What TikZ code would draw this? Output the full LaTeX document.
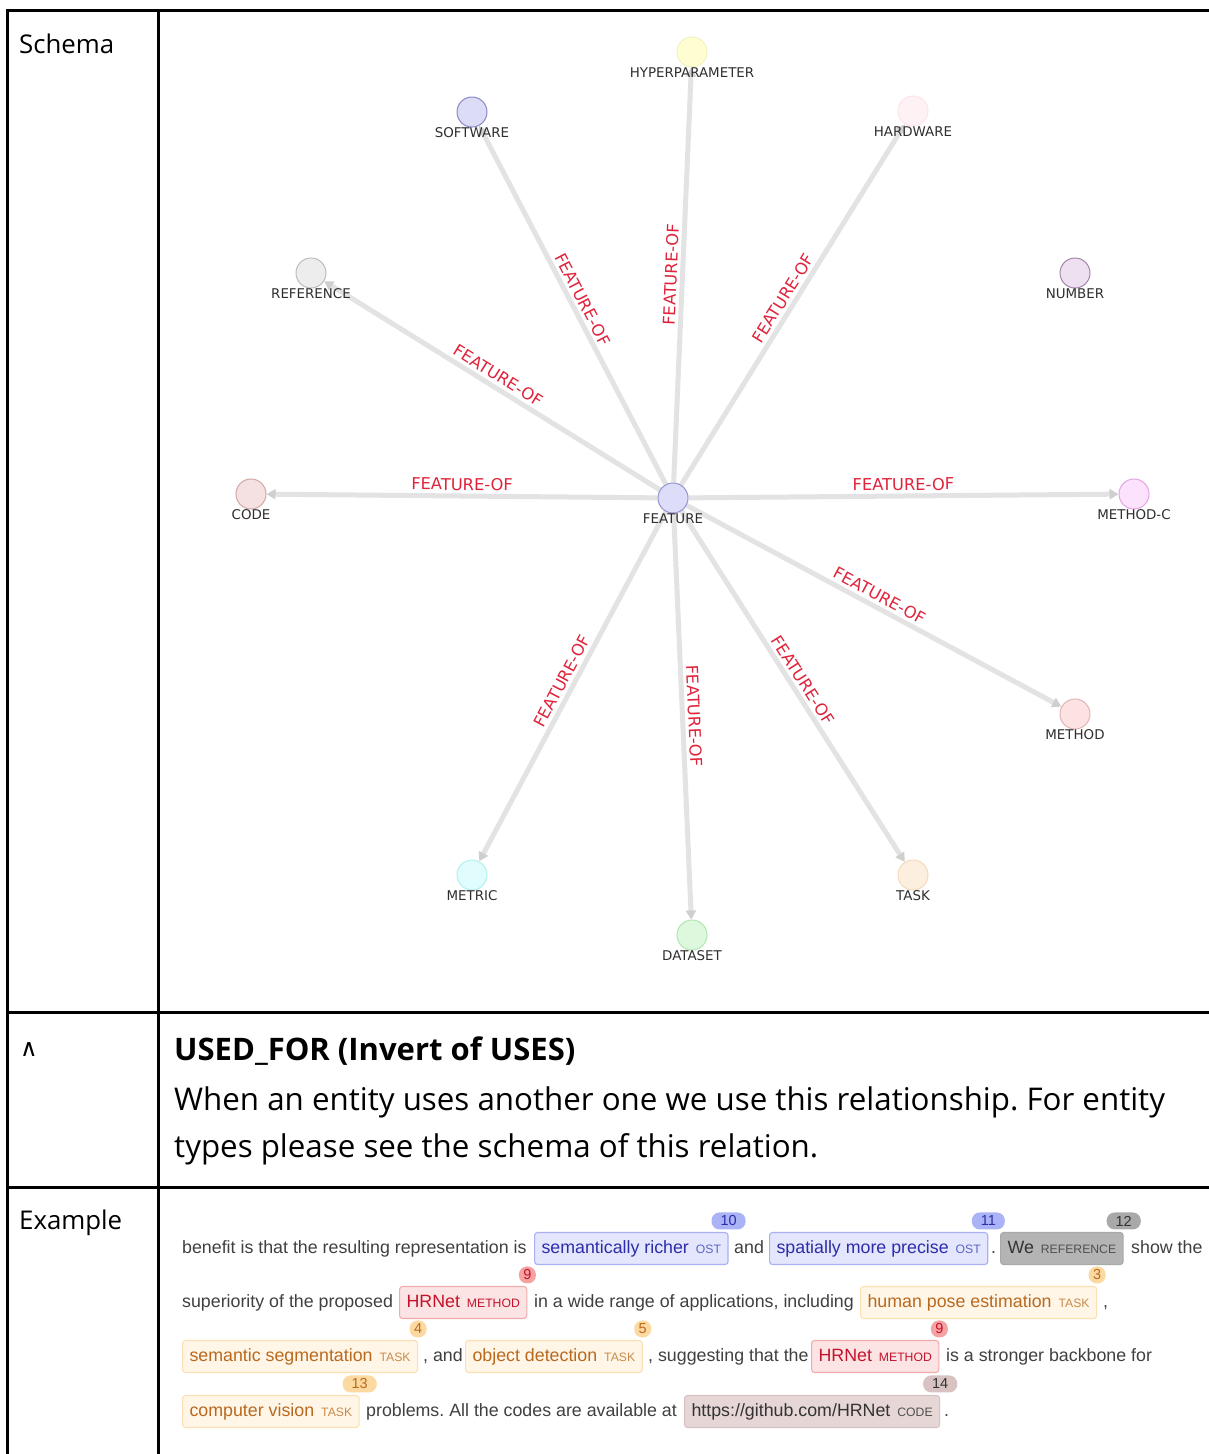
\documentclass[tikz,border=0pt]{standalone}
\usepackage{fontspec}
\setmainfont{Open Sans}
\newfontfamily\graphfont{DejaVu Sans}
\newfontfamily\exfont{Liberation Sans}
\newfontfamily\symfont{DejaVu Sans}
\usetikzlibrary{arrows.meta,backgrounds}
\frenchspacing

% graph colours
\definecolor{edgegray}{HTML}{E3E3E3}
\definecolor{tipgray}{HTML}{CFCFCF}
\definecolor{relred}{HTML}{E0233B}
\definecolor{labgray}{HTML}{2E2E2E}
\definecolor{hypfill}{HTML}{FEFED2}\definecolor{hypdraw}{HTML}{F2F2BE}
\definecolor{softfill}{HTML}{DCDCF6}\definecolor{softdraw}{HTML}{8A8ACB}
\definecolor{hardfill}{HTML}{FFF2F5}\definecolor{harddraw}{HTML}{FCE4EA}
\definecolor{reffill}{HTML}{EDEDED}\definecolor{refdraw}{HTML}{BDBDBD}
\definecolor{numfill}{HTML}{EEE0F0}\definecolor{numdraw}{HTML}{A585AC}
\definecolor{codefill}{HTML}{F5E1E1}\definecolor{codedraw}{HTML}{D4A6A6}
\definecolor{featfill}{HTML}{DDDDF9}\definecolor{featdraw}{HTML}{9494D4}
\definecolor{methcfill}{HTML}{FDE2FD}\definecolor{methcdraw}{HTML}{E3A4E3}
\definecolor{methfill}{HTML}{FCE2E2}\definecolor{methdraw}{HTML}{E2B4B4}
\definecolor{metricfill}{HTML}{E0FCFC}\definecolor{metricdraw}{HTML}{B4F0F0}
\definecolor{datafill}{HTML}{DDF8DD}\definecolor{datadraw}{HTML}{B2E6B2}
\definecolor{taskfill}{HTML}{FDEFDF}\definecolor{taskdraw}{HTML}{F4DABB}

% annotated example colours
\definecolor{bodytext}{HTML}{404040}
\definecolor{ostF}{HTML}{E3E6FC}\definecolor{ostD}{HTML}{A9B1F2}\definecolor{ostT}{HTML}{2D2DA8}\definecolor{ostG}{HTML}{5A64C8}\definecolor{ostB}{HTML}{A9B3F5}
\definecolor{refF}{HTML}{B4B4B4}\definecolor{refD}{HTML}{A9A9A9}\definecolor{refT}{HTML}{333333}\definecolor{refG}{HTML}{505050}\definecolor{refB}{HTML}{A9A9A9}
\definecolor{metF}{HTML}{FDE4E4}\definecolor{metD}{HTML}{F0ACAC}\definecolor{metT}{HTML}{C4122A}\definecolor{metG}{HTML}{C4122A}\definecolor{metB}{HTML}{F4A2A2}
\definecolor{tskF}{HTML}{FFF6E8}\definecolor{tskD}{HTML}{FCE0B4}\definecolor{tskT}{HTML}{B8691E}\definecolor{tskG}{HTML}{C98B4A}\definecolor{tskB}{HTML}{FCD9A0}
\definecolor{cdeF}{HTML}{E6D6D6}\definecolor{cdeD}{HTML}{D6C2C2}\definecolor{cdeT}{HTML}{333333}\definecolor{cdeG}{HTML}{505050}\definecolor{cdeB}{HTML}{D9C2C2}

\newcommand\enttag[2]{\hspace{7pt}{\fontsize{12.2pt}{13pt}\selectfont\color{#1}#2}}

\tikzset{
  gnode/.style={circle, minimum size=30pt, inner sep=0pt, line width=1pt,
    fill=#1fill, draw=#1draw},
  glab/.style={font=\graphfont\fontsize{13.4pt}{15pt}\selectfont, text=labgray,
    inner sep=0pt, label distance=0pt},
  edge/.style={draw=edgegray, line width=5pt,
    -{Triangle[length=9pt,width=10pt,color=tipgray]}},
  elab/.style={pos=0.5, sloped, above=2pt, inner sep=1pt, text=relred,
    font=\graphfont\fontsize{16.3pt}{18pt}\selectfont},
  rule/.style={line width=3pt, draw=black},
  cell/.style={anchor=base west, inner sep=0pt, text=black},
  plain/.style={anchor=base west, inner sep=0pt, text=bodytext,
    font=\exfont\fontsize{17.8pt}{20pt}\selectfont},
  ent/.style={anchor=base west, rounded corners=3pt, line width=1.1pt,
    draw=#1D, fill=#1F, text=#1T, text height=13pt, text depth=4pt,
    inner ysep=7.5pt, inner xsep=7pt,
    font=\exfont\fontsize{17.8pt}{20pt}\selectfont},
  badge/.style={rounded corners=8pt, minimum height=17pt, inner ysep=0pt,
    fill=#1B, text=#1T, font=\exfont\fontsize{14.5pt}{15pt}\selectfont},
  wide/.style={inner xsep=9pt},
  narrow/.style={minimum width=17pt, inner xsep=0pt},
}

\begin{document}
\begin{tikzpicture}[x=1pt,y=-1pt]
\useasboundingbox (0,0) rectangle (1208,1454);
\begin{scope}[on background layer]
\fill[white] (0,0) rectangle (1208,1454);
\end{scope}

% ---- table rules
\draw[rule] (7.5,1456) -- (7.5,10.5) -- (1212,10.5);
\draw[rule] (158.8,10.5) -- (158.8,1456);
\draw[rule] (7.5,1012) -- (1212,1012);
\draw[rule] (7.5,1187) -- (1212,1187);

% ---- left column
\node[cell, font=\fontsize{25.8pt}{30pt}\selectfont] (c1) at (19,53) {Schema};
\node[cell, font=\symfont\fontsize{24pt}{26pt}\selectfont] (c2) at (20,1056) {∧};
\node[cell, font=\fontsize{25.8pt}{30pt}\selectfont] (c3) at (19,1229) {Example};

% ---- schema graph
\begin{scope}[every label/.style={glab}]
\node[gnode=feat,   label=below:FEATURE]        (feat)   at (673,498) {};
\node[gnode=hyp,    label=below:HYPERPARAMETER] (hyp)    at (692,52)  {};
\node[gnode=soft,   label=below:SOFTWARE]       (soft)   at (472,112) {};
\node[gnode=hard,   label=below:HARDWARE]       (hard)   at (913,111) {};
\node[gnode=ref,    label=below:REFERENCE]      (ref)    at (311,273) {};
\node[gnode=num,    label=below:NUMBER]         (num)    at (1075,273) {};
\node[gnode=code,   label=below:CODE]           (code)   at (251,494) {};
\node[gnode=methc,  label=below:METHOD-C]       (methc)  at (1134,494) {};
\node[gnode=meth,   label=below:METHOD]         (meth)   at (1075,714) {};
\node[gnode=metric, label=below:METRIC]         (metric) at (472,875) {};
\node[gnode=data,   label=below:DATASET]        (data)   at (692,935) {};
\node[gnode=task,   label=below:TASK]           (task)   at (913,875) {};
\end{scope}

% edges sit behind the nodes, above the white page
\begin{scope}[on background layer]
\foreach \t in {hyp,soft,hard,ref,code,methc,meth,task,data,metric}
  \draw[edge] (feat) -- (\t) node[elab] {FEATURE-OF};
\end{scope}

% ---- description
\node[cell, font=\bfseries\fontsize{31pt}{34pt}\selectfont] (h1) at (174,1060) {USED\_FOR (Invert of USES)};
\node[cell, font=\fontsize{31.3pt}{34pt}\selectfont] (d1) at (174,1110) {When an entity uses another one we use this relationship. For entity};
\node[cell, font=\fontsize{31.3pt}{34pt}\selectfont] (d2) at (174,1157) {types please see the schema of this relation.};

% ---- annotated example, row 1
\node[plain] (t1) at (182,1253) {benefit is that the resulting representation is};
\node[ent=ost] (e1) at (534,1253) {semantically richer\enttag{ostG}{OST}};
\node[plain] (t2) at (734,1253) {and};
\node[ent=ost] (e2) at (769,1253) {spatially more precise\enttag{ostG}{OST}};
\node[plain] (t3) at (991,1253) {.};
\node[ent=ref] (e3) at (1000,1253) {We\enttag{refG}{REFERENCE}};
\node[plain] (t4) at (1131,1253) {show the};

% row 2
\node[plain] (t5) at (182,1307) {superiority of the proposed};
\node[ent=met] (e4) at (399,1307) {HRNet\enttag{metG}{METHOD}};
\node[plain] (t6) at (534,1307) {in a wide range of applications, including};
\node[ent=tsk] (e5) at (860,1307) {human pose estimation\enttag{tskG}{TASK}};
\node[plain] (t7) at (1103,1307) {,};

% row 3
\node[ent=tsk] (e6) at (182,1361) {semantic segmentation\enttag{tskG}{TASK}};
\node[plain] (t8) at (423,1361) {, and};
\node[ent=tsk] (e7) at (465,1361) {object detection\enttag{tskG}{TASK}};
\node[plain] (t9) at (648,1361) {, suggesting that the};
\node[ent=met] (e8) at (811,1361) {HRNet\enttag{metG}{METHOD}};
\node[plain] (t10) at (946,1361) {is a stronger backbone for};

% row 4
\node[ent=tsk] (e9) at (182,1416) {computer vision\enttag{tskG}{TASK}};
\node[plain] (t11) at (366,1416) {problems. All the codes are available at};
\node[ent=cde] (e10) at (684,1416) {https://github.com/HRNet\enttag{cdeG}{CODE}};
\node[plain] (t12) at (944,1416) {.};

% ---- entity index badges
\node[badge=ost, wide]   (b10) at ([yshift=11pt]e1.north east) {10};
\node[badge=ost, wide]   (b11) at ([yshift=11pt]e2.north east) {11};
\node[badge=ref, wide]   (b12) at ([yshift=11pt]e3.north east) {12};
\node[badge=met, narrow] (b9a) at ([yshift=11pt]e4.north east) {9};
\node[badge=tsk, narrow] (b3)  at ([yshift=11pt]e5.north east) {3};
\node[badge=tsk, narrow] (b4)  at ([yshift=11pt]e6.north east) {4};
\node[badge=tsk, narrow] (b5)  at ([yshift=11pt]e7.north east) {5};
\node[badge=met, narrow] (b9b) at ([yshift=11pt]e8.north east) {9};
\node[badge=tsk, wide]   (b13) at ([yshift=11pt]e9.north east) {13};
\node[badge=cde, wide]   (b14) at ([yshift=11pt]e10.north east) {14};
\end{tikzpicture}
\end{document}
